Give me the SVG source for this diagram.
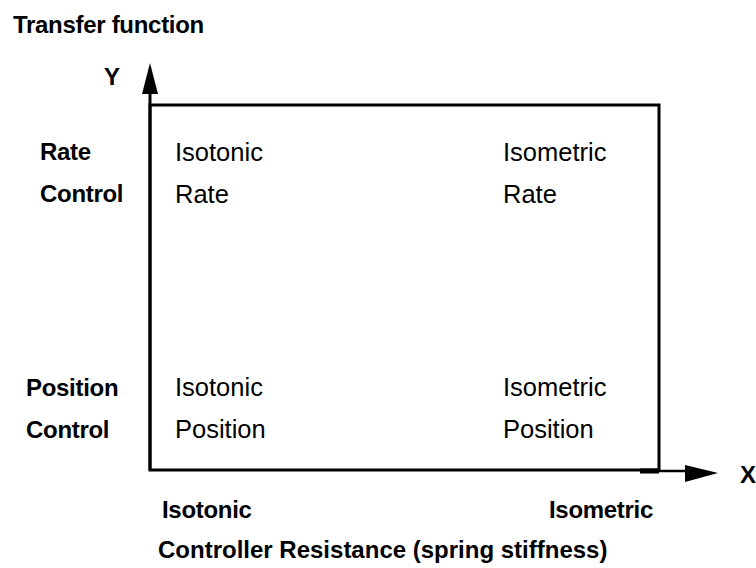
<svg xmlns="http://www.w3.org/2000/svg" width="756" height="568" viewBox="0 0 756 568">
<style>
.b{font-family:"Liberation Sans",Arial,sans-serif;font-weight:bold;font-size:24px;fill:#000;letter-spacing:-0.3px}
.r{font-family:"Liberation Sans",Arial,sans-serif;font-size:25.5px;fill:#000}
.ln{stroke:#000;fill:none}
</style>
<rect width="756" height="568" fill="#fff"/>
<g id="connectors">
<rect class="ln" x="150" y="105" width="509" height="365" stroke-width="3"/>
<line class="ln" x1="150" y1="470" x2="150" y2="92" stroke-width="3"/>
<polygon points="150,63 142,94 158,94" fill="#000"/>
<line class="ln" x1="640" y1="471" x2="659" y2="471" stroke-width="5"/>
<line class="ln" x1="659" y1="471" x2="690" y2="471" stroke-width="2.5"/>
<polygon points="718,473 685,465 685,482" fill="#000"/>
</g>
<g id="title"><text class="b" x="13" y="33">Transfer function</text></g>
<g id="axis-y"><text class="b" x="104" y="85">Y</text></g>
<g id="axis-x"><text class="b" x="740" y="483">X</text></g>
<g id="row-rate">
<text class="b" x="40" y="160">Rate</text>
<text class="b" x="40" y="202">Control</text>
</g>
<g id="row-position">
<text class="b" x="26" y="396">Position</text>
<text class="b" x="26" y="438">Control</text>
</g>
<g id="cell-isotonic-rate">
<text class="r" x="175" y="161">Isotonic</text>
<text class="r" x="175" y="203">Rate</text>
</g>
<g id="cell-isometric-rate">
<text class="r" x="503" y="161">Isometric</text>
<text class="r" x="503" y="203">Rate</text>
</g>
<g id="cell-isotonic-position">
<text class="r" x="175" y="396">Isotonic</text>
<text class="r" x="175" y="438">Position</text>
</g>
<g id="cell-isometric-position">
<text class="r" x="503" y="396">Isometric</text>
<text class="r" x="503" y="438">Position</text>
</g>
<g id="col-labels">
<text class="b" x="162" y="518">Isotonic</text>
<text class="b" x="549" y="518">Isometric</text>
<text class="b" x="158" y="558" style="letter-spacing:0">Controller Resistance (spring stiffness)</text>
</g>
</svg>
